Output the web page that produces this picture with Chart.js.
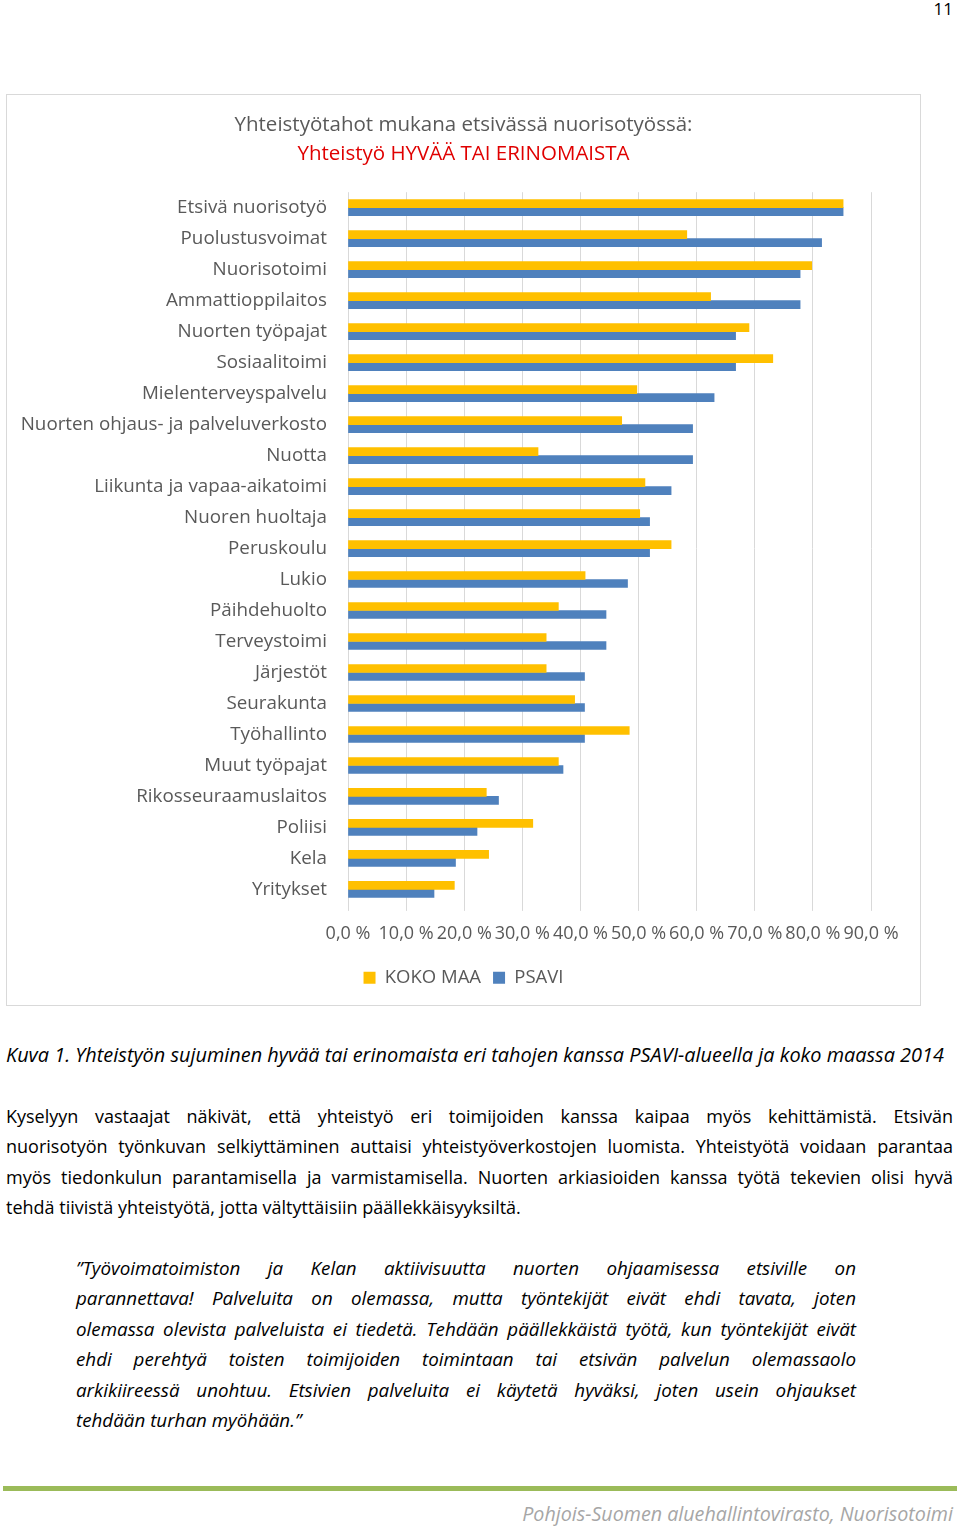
<!DOCTYPE html>
<html lang="fi">
<head>
<meta charset="utf-8">
<title>Yhteistyötahot mukana etsivässä nuorisotyössä</title>
<script src="https://cdn.jsdelivr.net/npm/chart.js@4/dist/chart.umd.min.js"></script>
<style>
  html, body { margin: 0; padding: 0; background: #fff; }
  body { width: 960px; height: 1529px; position: relative; font-family: 'Open Sans', Lato, sans-serif; color: #000; overflow: hidden; }
  .sivunro { position: absolute; top: -3px; right: 7px; font-size: 17px; }
  .kaavio { position: absolute; left: 6px; top: 94px; width: 913px; height: 910px; border: 1px solid #d9d9d9; }
  .kuvateksti { position: absolute; left: 6px; top: 1041px; font-size: 19.9px; font-style: italic; white-space: nowrap; }
  .kappale { position: absolute; left: 6px; width: 947px; top: 1101px; font-size: 18px; line-height: 30.3px; }
  .lainaus { position: absolute; left: 76px; width: 780px; top: 1253px; font-size: 18.8px; line-height: 30.4px; font-style: italic; }
  .rivi { white-space: nowrap; text-align: justify; text-align-last: justify; }
  .viimeinen { white-space: nowrap; }
  .viiva { position: absolute; left: 3px; width: 954px; top: 1486px; height: 5px; background: #9bbb59; }
  .alatunniste { position: absolute; right: 7px; top: 1500px; font-size: 19.7px; font-style: italic; color: #a6a6a6; }
</style>
</head>
<body>
<div class="sivunro">11</div>

<div class="kaavio"><canvas id="chartYhteistyo"></canvas></div>

<div class="kuvateksti">Kuva 1. Yhteistyön sujuminen hyvää tai erinomaista eri tahojen kanssa PSAVI-alueella ja koko maassa 2014</div>

<div class="kappale">
  <div class="rivi">Kyselyyn vastaajat näkivät, että yhteistyö eri toimijoiden kanssa kaipaa myös kehittämistä. Etsivän</div>
  <div class="rivi">nuorisotyön työnkuvan selkiyttäminen auttaisi yhteistyöverkostojen luomista. Yhteistyötä voidaan parantaa</div>
  <div class="rivi">myös tiedonkulun parantamisella ja varmistamisella. Nuorten arkiasioiden kanssa työtä tekevien olisi hyvä</div>
  <div class="viimeinen">tehdä tiivistä yhteistyötä, jotta vältyttäisiin päällekkäisyyksiltä.</div>
</div>

<div class="lainaus">
  <div class="rivi">”Työvoimatoimiston ja Kelan aktiivisuutta nuorten ohjaamisessa etsiville on</div>
  <div class="rivi">parannettava! Palveluita on olemassa, mutta työntekijät eivät ehdi tavata, joten</div>
  <div class="rivi">olemassa olevista palveluista ei tiedetä. Tehdään päällekkäistä työtä, kun työntekijät eivät</div>
  <div class="rivi">ehdi perehtyä toisten toimijoiden toimintaan tai etsivän palvelun olemassaolo</div>
  <div class="rivi">arkikiireessä unohtuu. Etsivien palveluita ei käytetä hyväksi, joten usein ohjaukset</div>
  <div class="viimeinen">tehdään turhan myöhään.”</div>
</div>

<div class="viiva"></div>
<div class="alatunniste">Pohjois-Suomen aluehallintovirasto, Nuorisotoimi</div>

<script>
const otsikko = 'Yhteistyötahot mukana etsivässä nuorisotyössä:';
const alaotsikko = 'Yhteistyö HYVÄÄ TAI ERINOMAISTA';

const yhteistyotahot = [
  'Etsivä nuorisotyö', 'Puolustusvoimat', 'Nuorisotoimi', 'Ammattioppilaitos',
  'Nuorten työpajat', 'Sosiaalitoimi', 'Mielenterveyspalvelu',
  'Nuorten ohjaus- ja palveluverkosto', 'Nuotta', 'Liikunta ja vapaa-aikatoimi',
  'Nuoren huoltaja', 'Peruskoulu', 'Lukio', 'Päihdehuolto', 'Terveystoimi',
  'Järjestöt', 'Seurakunta', 'Työhallinto', 'Muut työpajat',
  'Rikosseuraamuslaitos', 'Poliisi', 'Kela', 'Yritykset'
];

const kokoMaa = [85.2, 58.3, 79.8, 62.4, 69.0, 73.1, 49.7, 47.1, 32.7, 51.1, 50.2, 55.6,
  40.8, 36.2, 34.1, 34.1, 39.0, 48.4, 36.2, 23.8, 31.8, 24.2, 18.3];
const psavi = [85.2, 81.5, 77.8, 77.8, 66.7, 66.7, 63.0, 59.3, 59.3, 55.6, 51.9, 51.9,
  48.1, 44.4, 44.4, 40.7, 40.7, 40.7, 37.0, 25.9, 22.2, 18.5, 14.8];

const sarjaNimet = ['KOKO MAA', 'PSAVI'];
const xMin = 0;
const xMax = 90;
const xAskel = 10;

const harmaa = '#595959';
const fontti = '"Open Sans", Lato, sans-serif';

const ctx = document.getElementById('chartYhteistyo').getContext('2d');
new Chart(ctx, {
  type: 'bar',
  data: {
    labels: yhteistyotahot,
    datasets: [
      { label: sarjaNimet[0], data: kokoMaa, backgroundColor: '#ffc000', barThickness: 8 },
      { label: sarjaNimet[1], data: psavi, backgroundColor: '#4f81bd', barThickness: 8 }
    ]
  },
  options: {
    indexAxis: 'y',
    responsive: true,
    maintainAspectRatio: false,
    animation: false,
    // ei sivureunuksia: otsikko ja selite keskittyvät koko laatikkoon
    layout: { padding: { left: 0, right: 0, top: 0, bottom: 8 } },
    plugins: {
      title: {
        display: true, text: otsikko, color: harmaa,
        font: { family: fontti, size: 20.5, weight: 'normal' },
        padding: { top: 18, bottom: 4 }
      },
      subtitle: {
        display: true, text: alaotsikko, color: '#e00000',
        font: { family: fontti, size: 20.5, weight: 'normal' },
        padding: { top: 0, bottom: 26 }
      },
      legend: {
        position: 'bottom',
        labels: { color: harmaa, boxWidth: 12, boxHeight: 12, padding: 12, font: { family: fontti, size: 18.5 } }
      },
      tooltip: { enabled: false }
    },
    scales: {
      x: {
        min: xMin, max: xMax,
        grid: { color: '#d9d9d9', tickLength: 6 },
        border: { display: false },
        ticks: {
          stepSize: xAskel, autoSkip: false, maxRotation: 0, padding: 12,
          color: harmaa, font: { family: fontti, size: 18 },
          callback: v => v.toFixed(1).replace('.', ',') + ' %'
        }
      },
      y: {
        grid: { display: false },
        border: { display: false },
        ticks: { color: harmaa, padding: 13, autoSkip: false, font: { family: fontti, size: 18.8 } },
        afterFit: scale => { scale.width = 341; }
      },
      // tyhjä akseli oikealla: jättää tilaa viimeiselle x-nimiölle
      yTila: {
        type: 'category', position: 'right',
        grid: { display: false }, border: { display: false }, ticks: { display: false },
        afterFit: scale => { scale.width = 49; }
      }
    }
  }
});
</script>
</body>
</html>
